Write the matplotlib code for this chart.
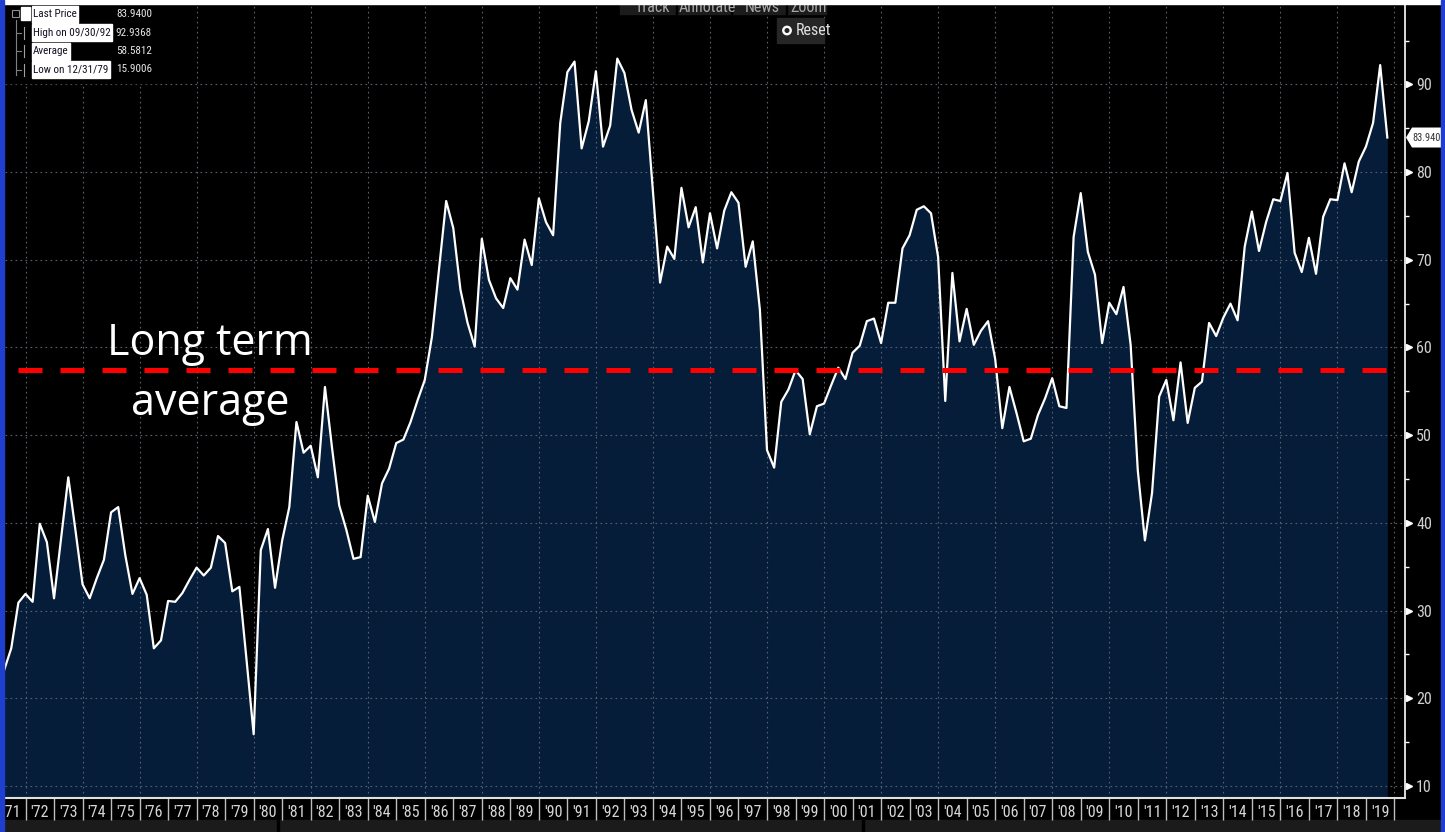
import matplotlib
matplotlib.use('Agg')
import numpy as np
import matplotlib.pyplot as plt
from matplotlib import font_manager
from matplotlib.font_manager import FontProperties
from matplotlib.patches import Rectangle, Polygon, Circle
from matplotlib.lines import Line2D
from matplotlib.transforms import IdentityTransform, blended_transform_factory


def have(name):
    try:
        font_manager.findfont(FontProperties(family=name), fallback_to_default=False)
        return True
    except Exception:
        return False


def find_narrow():
    prefs = ['LiberationSansNarrow-Regular', 'RobotoCondensed-Regular', 'Roboto_Condensed-Regular',
             'RobotoCondensed[', 'DejaVuSansCondensed.', 'OpenSans_Condensed-Regular',
             'NotoSans-Condensed.', 'Condensed-Regular', 'Narrow-Regular', 'Condensed.']
    files = [f.fname for f in font_manager.fontManager.ttflist]
    for p in prefs:
        for fn in files:
            base = fn.split('/')[-1]
            if p in base and 'Bold' not in base and 'Italic' not in base and 'Oblique' not in base:
                return fn
    return None


NARROW_FILE = find_narrow()
BIG = 'Open Sans' if have('Open Sans') else 'DejaVu Sans'


def nfont(size):
    if NARROW_FILE:
        return FontProperties(fname=NARROW_FILE, size=size)
    return FontProperties(family='Liberation Sans' if have('Liberation Sans') else 'DejaVu Sans',
                          size=size * 0.9)


# ---------------- data ----------------
first_year = 1971  # first value is 1971 Q1 (quarter-end), last is 2019 Q3
quarter_values = [
    23.2, 25.7, 30.9, 31.9,   # 1971
    31.0, 39.9, 37.8, 31.4,   # 1972
    38.3, 45.2, 39.2, 33.0,   # 1973
    31.4, 33.7, 35.8, 41.2,   # 1974
    41.8, 36.3, 31.9, 33.7,   # 1975
    31.8, 25.7, 26.6, 31.1,   # 1976
    31.0, 32.0, 33.5, 34.9,   # 1977
    34.0, 34.9, 38.5, 37.7,   # 1978
    32.2, 32.7, 24.4, 15.9,   # 1979
    36.9, 39.3, 32.6, 38.0,   # 1980
    41.8, 51.5, 48.0, 48.8,   # 1981
    45.2, 55.5, 48.5, 42.0,   # 1982
    39.2, 35.9, 36.1, 43.1,   # 1983
    40.1, 44.5, 46.2, 49.1,   # 1984
    49.5, 51.5, 54.0, 56.3,   # 1985
    61.2, 69.0, 76.7, 73.6,   # 1986
    66.6, 62.8, 60.1, 72.4,   # 1987
    67.7, 65.6, 64.5, 67.9,   # 1988
    66.6, 72.3, 69.4, 77.0,   # 1989
    74.3, 72.8, 85.6, 91.4,   # 1990
    92.6, 82.7, 85.8, 91.5,   # 1991
    82.9, 85.3, 92.94, 91.3,  # 1992
    87.1, 84.5, 88.2, 77.8,   # 1993
    67.4, 71.5, 70.1, 78.2,   # 1994
    73.7, 76.0, 69.7, 75.3,   # 1995
    71.3, 75.6, 77.7, 76.5,   # 1996
    69.2, 72.1, 64.3, 48.3,   # 1997
    46.3, 53.8, 55.2, 57.4,   # 1998
    56.4, 50.1, 53.3, 53.6,   # 1999
    55.7, 57.7, 56.4, 59.4,   # 2000
    60.2, 63.0, 63.3, 60.5,   # 2001
    65.1, 65.1, 71.3, 72.8,   # 2002
    75.7, 76.1, 75.3, 70.3,   # 2003
    53.9, 68.5, 60.7, 64.4,   # 2004
    60.3, 61.9, 63.0, 58.7,   # 2005
    50.8, 55.5, 52.5, 49.3,   # 2006
    49.6, 52.3, 54.2, 56.5,   # 2007
    53.3, 53.1, 72.6, 77.6,   # 2008
    70.9, 68.3, 60.5, 65.1,   # 2009
    63.8, 66.9, 60.3, 46.0,   # 2010
    38.0, 43.4, 54.4, 56.3,   # 2011
    51.7, 58.3, 51.4, 55.4,   # 2012
    56.1, 62.8, 61.3, 63.4,   # 2013
    65.0, 63.1, 71.5, 75.5,   # 2014
    71.0, 74.3, 76.9, 76.7,   # 2015
    79.9, 70.8, 68.6, 72.5,   # 2016
    68.4, 74.9, 76.9, 76.8,   # 2017
    81.0, 77.7, 81.2, 82.9,   # 2018
    85.6, 92.2, 83.94,        # 2019
]
label_years = list(range(1971, 2020))
year_labels = ["'%02d" % (y % 100) for y in label_years]
y_ticks = [10, 20, 30, 40, 50, 60, 70, 80, 90]
y_tick_labels = ['10', '20', '30', '40', '50', '60', '70', '80', '90']
long_term_average_level = 57.4
legend_names = ['Last Price', 'High on 09/30/92', 'Average', 'Low on 12/31/79']
legend_values = ['83.9400', '92.9368', '58.5812', '15.9006']
last_price_label = '83.940'
annotation_lines = ['Long term', 'average']
toolbar_items = ['Track', 'Annotate', 'News', 'Zoom']

# ---------------- figure ----------------
W, H = 1445, 832
fig = plt.figure(figsize=(W / 100, H / 100), dpi=100, facecolor='black')


def fx(px):
    return px / W


def fy(py):
    return 1 - py / H


ax = fig.add_axes([fx(5), fy(798), 1400 / W, 793 / H])
ax.set_facecolor('black')

n = len(quarter_values)
x = first_year + np.arange(1, n + 1) / 4.0
ax.set_xlim(1971.281, 2020.37)
ax.set_ylim(8.63, 99.05)
ymin = ax.get_ylim()[0]

NAVY = '#061d39'
GRID = '#5a6070'
ax.fill_between(x, quarter_values, ymin, color=NAVY, lw=0, zorder=1)
ax.plot(x, quarter_values, color='white', lw=1.6, zorder=3)

# long-term average dashed line
ax.axhline(long_term_average_level, xmin=(18 - 5) / 1400, xmax=(1387 - 5) / 1400,
           color='#ff0000', lw=3.6, ls=(0, (4.8, 3.6)), zorder=4)

# grid
ax.set_axisbelow('line')
ax.yaxis.grid(True, which='major', color=GRID, ls=(0, (1.5, 3)), lw=0.8)
for yr in range(1972, 2021, 2):
    ax.axvline(yr, color=GRID, ls=(0, (1.5, 3)), lw=0.8, zorder=1.5)

# x axis: separators at year boundaries, labels centred in each year
ax.set_xticks(np.arange(1972, 2021))
ax.set_xticklabels([])
ax.set_xticks(np.array(label_years) + 0.5, minor=True)
ax.set_xticklabels(year_labels, minor=True, fontproperties=nfont(11.5))
ax.tick_params(axis='x', which='major', length=16, width=1.0, color='#bdbdbd', direction='out')
ax.tick_params(axis='x', which='minor', length=0, pad=5, labelcolor='#d6d6d6')

# y axis on right
ax.yaxis.tick_right()
ax.set_yticks(y_ticks)
ax.set_yticklabels(y_tick_labels, fontproperties=nfont(11.5))
ax.set_yticks(np.arange(15, 96, 10), minor=True)
ax.tick_params(axis='y', which='major', length=0, pad=8, labelcolor='#cfcfcf')
ax.tick_params(axis='y', which='minor', length=3, width=1, color='white', direction='out')
trans = blended_transform_factory(ax.transAxes, ax.transData)
ax.plot(np.full(len(y_ticks), 1.0 + 4.5 / 1400), y_ticks, marker='>', ms=4, color='white',
        lw=0, transform=trans, clip_on=False, zorder=5)

for s in ['top', 'left']:
    ax.spines[s].set_visible(False)
ax.spines['right'].set_color('white')
ax.spines['right'].set_linewidth(1.2)
ax.spines['bottom'].set_color('#e0e0e0')
ax.spines['bottom'].set_linewidth(1.5)

# annotation text (two lines, each on its own baseline)
for line, base in zip(annotation_lines, [355, 415]):
    fig.text(fx(210), fy(base), line, color='white', fontsize=31, family=BIG,
             ha='center', va='baseline', zorder=6)

# ---------------- decorations ----------------
idt = IdentityTransform()


def prect(x0, y0, x1, y1, **kw):
    fig.add_artist(Rectangle((x0, H - y1), x1 - x0, y1 - y0, transform=idt, **kw))


fig.canvas.draw()
renderer = fig.canvas.get_renderer()


def fit_size(texts, max_width, start):
    size = start
    while size > 5:
        for t in texts:
            t.set_fontsize(size)
        if max(t.get_window_extent(renderer).width for t in texts) <= max_width:
            break
        size -= 0.25
    return size


# bottom grey band
prect(0, 820, W, H, color='#1b1b1b', zorder=0)
prect(277, 820, 279, H, color='black', zorder=0.5)
prect(862, 820, 864, H, color='black', zorder=0.5)

# legend box
prect(3, 3, 156, 83, color='black', zorder=7)
row_y = [14, 32.5, 51, 69.5]
name_texts, value_texts = [], []
for yy, name, val in zip(row_y, legend_names, legend_values):
    name_texts.append(fig.text(fx(33), fy(yy), name, color='#101020', fontproperties=nfont(11),
                               ha='left', va='center', zorder=8))
    value_texts.append(fig.text(fx(152), fy(yy), val, color='#e8e8e8', fontproperties=nfont(11),
                                ha='right', va='center', zorder=8))
fit_size(name_texts, 79, 11)
fit_size(value_texts, 37, 11)
for yy, t in zip(row_y, name_texts):
    right = t.get_window_extent(renderer).x1
    prect(32, yy - 8.5, right + 1.5, yy + 8.5, color='white', zorder=7.5)

# checkbox and tree
prect(21, 7, 30, 20, color='white', zorder=8)
prect(12, 10, 19, 17, fc='black', ec='#909090', lw=0.8, zorder=8)
fig.add_artist(Line2D([15.5, 15.5], [H - 20, H - 75], color='#808080', lw=0.8, transform=idt, zorder=8))
for yy in row_y[1:]:
    fig.add_artist(Line2D([15.5, 21], [H - yy, H - yy], color='#808080', lw=0.8, transform=idt, zorder=8))
    fig.add_artist(Line2D([23.5, 23.5], [H - yy + 6, H - yy - 6], color='#a0a0a0', lw=0.8,
                          transform=idt, zorder=8))

# toolbar (cut off at top)
prect(620, 0, 826, 14, color='#1c1c1c', zorder=7)
for sx in [676, 731, 786]:
    prect(sx, 0, sx + 1, 14, color='black', zorder=7.2)
tool_x = [652, 707, 762, 808]
for tx, name in zip(tool_x, toolbar_items):
    fig.text(fx(tx), fy(8), name, color='#a8a8a8', fontproperties=nfont(11.5), ha='center', va='center',
             zorder=8)
prect(777, 18, 824, 43, color='#262626', zorder=7)
fig.add_artist(Circle((787, H - 30.5), 4.2, transform=idt, color='white', zorder=8))
fig.add_artist(Circle((787, H - 30.5), 1.8, transform=idt, color='#262626', zorder=8.5))
fig.text(fx(796), fy(30.5), 'Reset', color='#e0e0e0', fontproperties=nfont(11.5), ha='left', va='center',
         zorder=8)

# last price tag on right axis
ly = ax.transData.transform((x[-1], quarter_values[-1]))[1]
fig.add_artist(Polygon([(1406, ly), (1412, ly + 10), (W, ly + 10), (W, ly - 10), (1412, ly - 10)],
                       closed=True, transform=idt, fc='white', ec='none', zorder=7))
tag = fig.text(1412 / W, ly / H, last_price_label, color='#303030', fontproperties=nfont(10.5),
               ha='left', va='center', zorder=8)
fit_size([tag], 28.5, 11)

# window borders
prect(0, 0, W, 4, color='white', zorder=9)
prect(0, 0, 4, H, color='#1f3fd0', zorder=9)
prect(1441, 0, W, H, color='#1f3fd0', zorder=9)

fig.savefig('out.png', dpi=100, facecolor='black')
